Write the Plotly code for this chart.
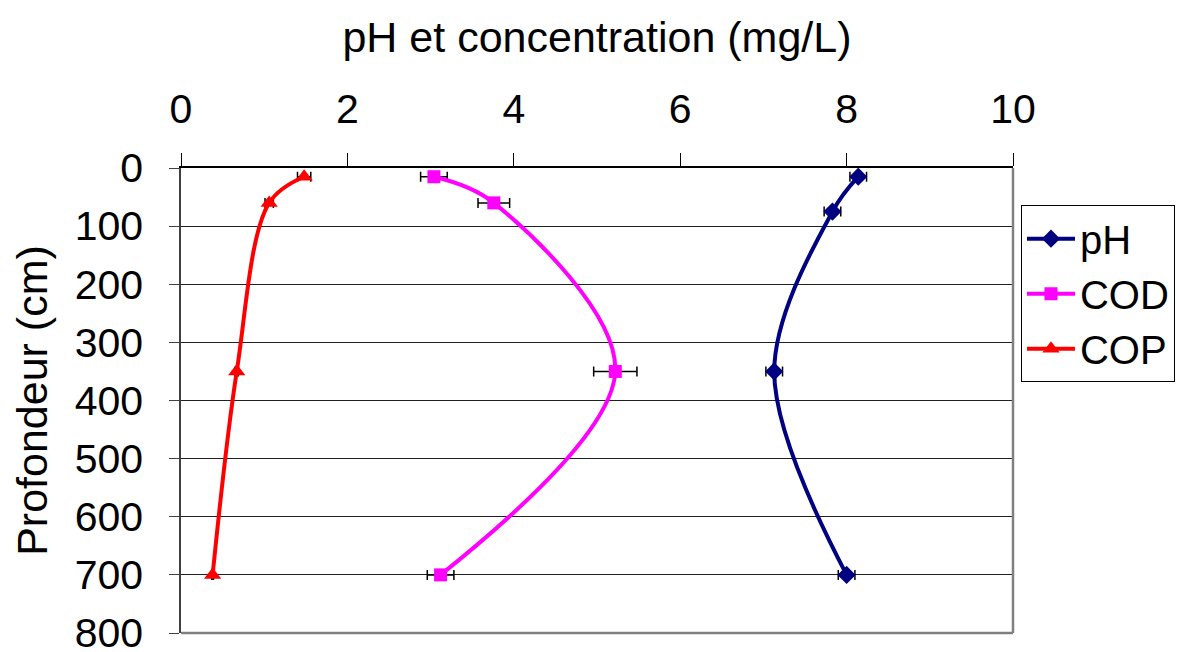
import plotly.graph_objects as go

depth_ph = [15, 75, 350, 700]
ph = [8.14, 7.83, 7.13, 8.0]
ph_err = [0.1, 0.1, 0.1, 0.1]

depth_cod = [15, 60, 350, 700]
cod = [3.04, 3.76, 5.22, 3.12]
cod_err = [0.16, 0.19, 0.26, 0.16]

depth_cop = [15, 60, 350, 700]
cop = [1.48, 1.06, 0.67, 0.38]
cop_err = [0.08, 0.05, 0.02, 0.01]

x_ticks = [0, 2, 4, 6, 8, 10]
y_ticks = [0, 100, 200, 300, 400, 500, 600, 700, 800]

FONT = "Arial, Liberation Sans, sans-serif"

fig = go.Figure()

def add(name, xs, ys, errs, color, symbol, size):
    fig.add_trace(go.Scatter(
        x=xs, y=ys, name=name, mode="lines+markers",
        line=dict(color=color, width=4, shape="spline", smoothing=1.0),
        marker=dict(symbol=symbol, size=size, color=color),
        error_x=dict(type="data", array=errs, visible=True, color="black",
                     thickness=1.5, width=5),
    ))

add("pH", ph, depth_ph, ph_err, "#000080", "diamond", 14)
add("COD", cod, depth_cod, cod_err, "#FF00FF", "square", 13)
add("COP", cop, depth_cop, cop_err, "#FF0000", "triangle-up", 15)

fig.update_layout(
    width=1189, height=652,
    margin=dict(l=181, r=176, t=168, b=19),
    paper_bgcolor="white", plot_bgcolor="white",
    font=dict(family=FONT, size=41, color="black"),
    showlegend=True,
    legend=dict(x=1.0096, y=0.92, xanchor="left", yanchor="top",
                bordercolor="black", borderwidth=1, bgcolor="white",
                font=dict(size=40), tracegroupgap=0, itemwidth=48,
                entrywidth=175, entrywidthmode="pixels"),
    xaxis=dict(
        side="top", range=[0, 10], tickvals=x_ticks,
        ticks="outside", ticklen=13, tickcolor="black",
        showgrid=False, zeroline=False, automargin=False,
        showline=True, linecolor="black", linewidth=1.5, mirror=False,
        ticklabelstandoff=14, ticklabeloverflow="allow",
        title=dict(text="pH et concentration (mg/L)", standoff=20,
                   font=dict(size=43)),
        tickfont=dict(size=41),
    ),
    yaxis=dict(
        range=[800, 0], tickvals=y_ticks,
        ticks="outside", ticklen=10, tickcolor="#404040",
        showgrid=True, gridcolor="#202020", gridwidth=1,
        zeroline=False, automargin=False,
        showline=True, linecolor="#404040", linewidth=1.5,
        ticklabelstandoff=18, ticklabeloverflow="allow",
        title=dict(text="Profondeur (cm)", standoff=14, font=dict(size=43)),
        tickfont=dict(size=41),
    ),
)

# right and bottom border of plot area (gray frame)
fig.add_shape(type="line", xref="paper", yref="paper", x0=1, x1=1, y0=0, y1=1,
              line=dict(color="#808080", width=2.5))
fig.add_shape(type="line", xref="paper", yref="paper", x0=0, x1=1, y0=0, y1=0,
              line=dict(color="#808080", width=2.5))

fig.write_html("out.html",
               config={"displayModeBar": False},
               post_script="document.body.style.margin='0';"
                           "document.body.style.overflow='hidden';")
